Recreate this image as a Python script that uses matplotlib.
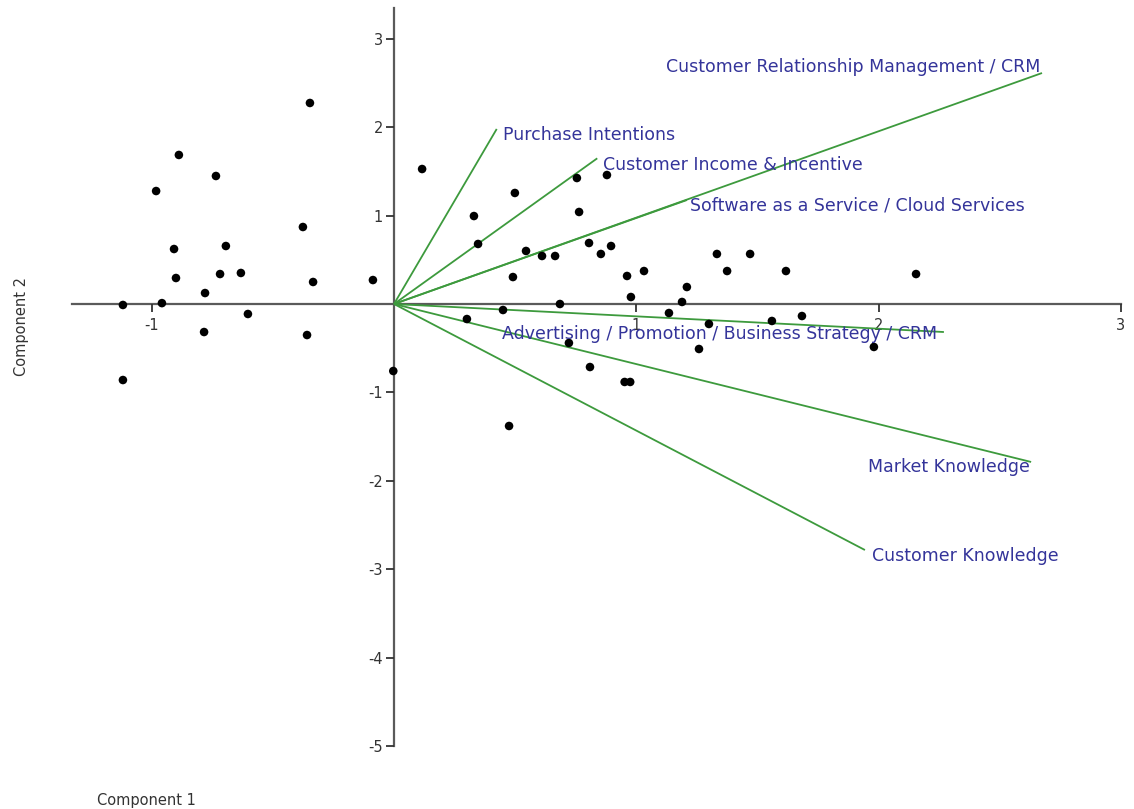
import numpy as np
import matplotlib
matplotlib.use("Agg")
import matplotlib.pyplot as plt

plt.rcParams['font.family'] = ['DejaVu Sans']

# component scores (Component 1, Component 2)
score_c1 = [-0.347, -0.888, -0.735, -0.982, -0.376, -0.908, -0.694, -0.900, -0.718, -0.632,
            -0.334, -0.087, -0.780, -1.119, -0.958, -0.603, -0.784, -0.359, -1.119, -0.003,
            0.116, 0.755, 0.879, 0.499, 0.330, 0.764, 0.347, 0.545, 0.611, 0.665,
            0.805, 0.854, 0.896, 1.333, 1.470, 0.491, 0.962, 1.032, 1.375, 1.618,
            1.209, 0.978, 0.685, 1.189, 0.450, 0.301, 1.135, 1.300, 1.560, 1.684,
            2.155, 0.722, 1.259, 1.981, 0.809, 0.952, 0.975, 0.475]
score_c2 = [2.274, 1.686, 1.448, 1.278, 0.871, 0.622, 0.656, 0.294, 0.339, 0.351,
            0.249, 0.271, 0.124, -0.011, 0.010, -0.113, -0.317, -0.351, -0.860, -0.758,
            1.527, 1.425, 1.459, 1.256, 0.995, 1.041, 0.679, 0.600, 0.543, 0.543,
            0.690, 0.566, 0.656, 0.566, 0.566, 0.305, 0.317, 0.373, 0.373, 0.373,
            0.192, 0.079, 0.000, 0.023, -0.068, -0.170, -0.102, -0.226, -0.192, -0.136,
            0.339, -0.441, -0.509, -0.486, -0.713, -0.882, -0.882, -1.380]

# variable loadings
var_names = ["Purchase Intentions",
             "Customer Income & Incentive",
             "Software as a Service / Cloud Services",
             "Customer Relationship Management / CRM",
             "Advertising / Promotion / Business Strategy / CRM",
             "Market Knowledge",
             "Customer Knowledge"]
load_c1 = [0.424, 0.839, 1.209, 2.675, 2.270, 2.630, 1.944]
load_c2 = [1.980, 1.648, 1.176, 2.613, -0.317, -1.787, -2.783]

x_ticks = [-1, 1, 2, 3]
y_ticks = [3, 2, 1, -1, -2, -3, -4, -5]

# label placement: (dx, dy) in pixels from the vector tip, horizontal alignment
label_place = [((6, -6), 'left'),
               ((6, -7), 'left'),
               ((3, -5), 'left'),
               ((-2, 6), 'right'),
               ((-442, -2), 'left'),
               ((-1, -5), 'right'),
               ((7, -6), 'left')]

fig = plt.figure(figsize=(11.34, 8.09), dpi=100)
ax = fig.add_axes([0, 0, 1, 1])
ax.set_xlim(-394 / 242.25, (1134 - 394) / 242.25)
ax.set_ylim(-(809 - 304) / 88.4, 304 / 88.4)

axis_col = '#5a5a5a'
for side in ['top', 'right']:
    ax.spines[side].set_visible(False)
ax.spines['left'].set_position(('data', 0))
ax.spines['bottom'].set_position(('data', 0))
ax.spines['left'].set_bounds(-5, 3.35)
ax.spines['bottom'].set_bounds(-1.33, 3.0)
for side in ['left', 'bottom']:
    ax.spines[side].set_color(axis_col)
    ax.spines[side].set_linewidth(1.6)
    ax.spines[side].set_zorder(1)

ax.set_xticks(x_ticks)
ax.set_yticks(y_ticks)
ax.set_xticklabels([str(t) for t in x_ticks])
ax.set_yticklabels([str(t) for t in y_ticks])
ax.tick_params(axis='both', direction='out', length=6, width=1.3, color='#333333',
               labelsize=10.5, labelcolor='#333333')
ax.tick_params(axis='x', pad=4)
ax.tick_params(axis='y', pad=2)
ax.patch.set_visible(False)

# loading vectors
for i in range(len(var_names)):
    ax.plot([0, load_c1[i]], [0, load_c2[i]], color='#3d9a3d', lw=1.3, zorder=2,
            solid_capstyle='butt')
    (dx, dy), ha = label_place[i]
    ax.annotate(var_names[i], (load_c1[i], load_c2[i]), xytext=(dx, dy),
                textcoords='offset pixels', ha=ha, va='center',
                fontsize=12.5, color='#34349a', zorder=4)

ax.scatter(score_c1, score_c2, s=38, color='black', edgecolors='none', zorder=3)

fig.text(22 / 1134, 1 - 326 / 809, "Component 2", rotation=90, ha='center', va='center',
         fontsize=10.5, color='#333333')
fig.text(146 / 1134, 1 - 800 / 809, "Component 1", ha='center', va='center',
         fontsize=10.5, color='#333333')

fig.savefig("out.png", dpi=100)
